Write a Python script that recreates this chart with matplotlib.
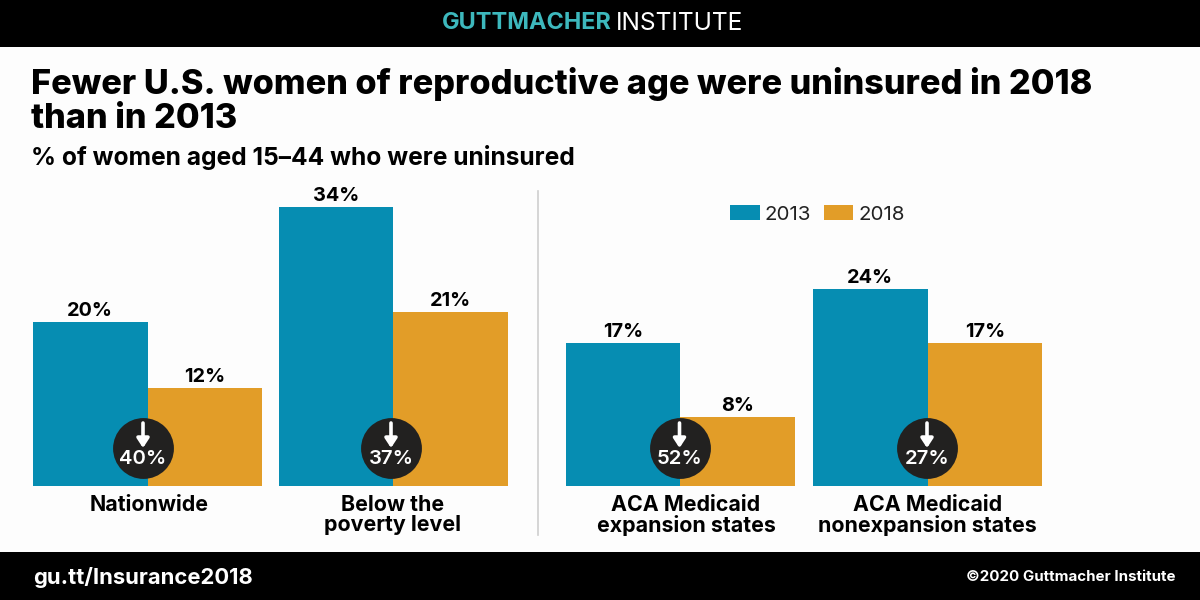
import matplotlib
matplotlib.use("Agg")
import matplotlib.pyplot as plt
from matplotlib.patches import Rectangle
from matplotlib.transforms import ScaledTranslation

FONT = "Inter"
plt.rcParams["font.family"] = FONT

left_groups = ["Nationwide", "Below the\npoverty level"]
left_2013 = [20.0, 34.0]
left_2018 = [12.0, 21.2]
left_drop = ["40%", "37%"]

right_groups = ["ACA Medicaid\nexpansion states", "ACA Medicaid\nnonexpansion states"]
right_2013 = [17.4, 24.0]
right_2018 = [8.4, 17.4]
right_drop = ["52%", "27%"]

years = ["2013", "2018"]
title = "Fewer U.S. women of reproductive age were uninsured in 2018\nthan in 2013"
subtitle = "% of women aged 15–44 who were uninsured"

BLUE, ORANGE, DARK, LOGO = "#068DB2", "#E29D28", "#222120", "#3DB8BD"
W, H = 1200, 600
PX_PER_UNIT = 8.2
BASE, TOP = 486, 190

fig = plt.figure(figsize=(12, 6), dpi=100, facecolor="#FDFDFD")


def fx(x):
    return x / W


def fy(y):
    return 1 - y / H


fig.add_artist(Rectangle((0, fy(47)), 1, 47 / H, transform=fig.transFigure, fc="black", ec="none"))
fig.add_artist(Rectangle((0, 0), 1, 48 / H, transform=fig.transFigure, fc="black", ec="none"))
fig.add_artist(plt.Line2D([fx(537.5)] * 2, [fy(191), fy(535)], color="#CFCFCF", lw=1.2))

fig.text(fx(442), fy(23), "GUTTMACHER", color=LOGO, fontsize=16.9, fontweight="bold",
         va="center", ha="left")
fig.text(fx(616), fy(23), "INSTITUTE", color="white", fontsize=17.7, fontweight="normal",
         va="center", ha="left")
fig.text(fx(31), fy(101), title, color="black", fontsize=24.67, fontweight=800, va="center",
         ha="left", linespacing=1.05)
fig.text(fx(31), fy(157), subtitle, color="black", fontsize=17.7, fontweight="bold", va="center", ha="left")
fig.text(fx(33), fy(577), "gu.tt/Insurance2018", color="white", fontsize=15.85, fontweight="bold",
         va="center", ha="left")
fig.text(fx(1176), fy(577), "©2020 Guttmacher Institute", color="white", fontsize=10.85, fontweight="bold",
         va="center", ha="right")


def panel(x0, x1, c0, c1, groups, v13, v18, drops, shift, label_shift):
    ax = fig.add_axes([fx(x0), fy(BASE), (x1 - x0) / W, (BASE - TOP) / H])
    ax.patch.set_alpha(0)
    unit = c1 - c0
    ax.set_xlim(-(c0 - x0) / unit, 1 + (x1 - c1) / unit)
    ax.set_ylim(0, (BASE - TOP) / PX_PER_UNIT)
    w = 114.5 / unit
    xs = list(range(len(groups)))
    b1 = ax.bar([x - w / 2 for x in xs], v13, w, color=BLUE, label=years[0])
    b2 = ax.bar([x + w / 2 for x in xs], v18, w, color=ORANGE, label=years[1])
    for bars in (b1, b2):
        for r in bars:
            ax.annotate(f"{r.get_height():.0f}%", (r.get_x() + r.get_width() / 2, r.get_height()),
                        xytext=(0, 1.5), textcoords="offset points", ha="center", va="bottom",
                        fontsize=14.3, fontweight="bold", color="black", annotation_clip=False)
    for x, d, s in zip(xs, drops, shift):
        cx = x + s / unit
        ax.scatter([cx], [38.5 / PX_PER_UNIT], s=1920, color=DARK, zorder=3, clip_on=False, linewidths=0)
        ax.annotate("", xy=(cx, 38 / PX_PER_UNIT), xytext=(cx, 63 / PX_PER_UNIT), zorder=4,
                    arrowprops=dict(arrowstyle="-|>,head_width=0.36,head_length=0.55", color="white",
                                    lw=2.6, shrinkA=0, shrinkB=0))
        ax.text(cx, 27.5 / PX_PER_UNIT, d, color="white", fontsize=14.6, fontweight="semibold",
                ha="center", va="center", zorder=5)
    ax.set_xticks(xs, groups)
    ax.tick_params(axis="x", length=0, pad=6.5)
    for lab, dx in zip(ax.get_xticklabels(), label_shift):
        lab.set_fontsize(15.4)
        lab.set_fontweight("bold")
        lab.set_va("top")
        lab.set_linespacing(1.02)
        lab.set_transform(lab.get_transform() + ScaledTranslation(dx / 100, 0, fig.dpi_scale_trans))
    ax.set_yticks([])
    for s in ax.spines.values():
        s.set_visible(False)
    return ax


panel(33, 508, 147.5, 393, left_groups, left_2013, left_2018, left_drop, [-4.5, -2], [2, 0])
ax_r = panel(565, 1042, 680, 927.5, right_groups, right_2013, right_2018, right_drop, [-0.5, -0.5], [6, 0])
ax_r.legend(loc="center left", bbox_to_anchor=(fx(730), fy(214.5)), bbox_transform=fig.transFigure,
            ncol=2, frameon=False, fontsize=14.8, handlelength=1.44, handleheight=0.72, handletextpad=0.25,
            columnspacing=0.62, borderpad=0, borderaxespad=0, labelcolor="#222222")

fig.savefig("out.png", dpi=100, facecolor=fig.get_facecolor())
